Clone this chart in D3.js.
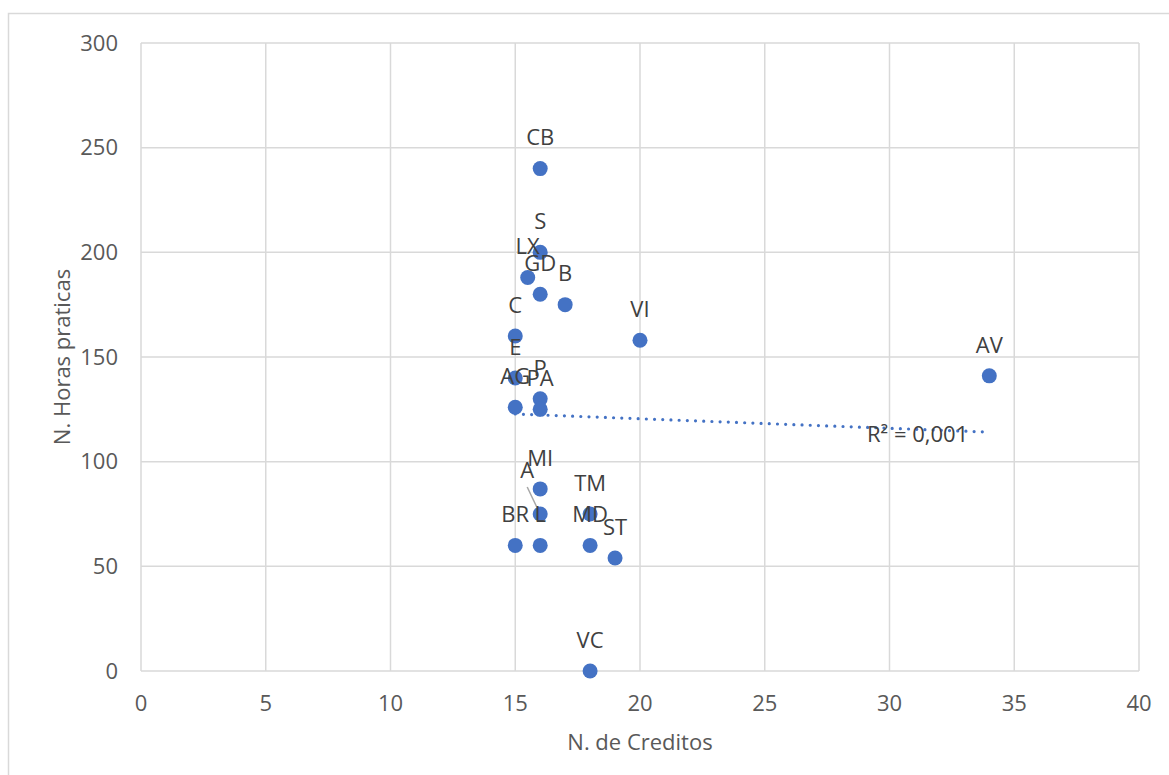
<!DOCTYPE html>
<html>
<head>
<meta charset="utf-8">
<script src="https://cdn.jsdelivr.net/npm/d3@7/dist/d3.min.js"></script>
<style>
  html, body { margin: 0; padding: 0; background: #fff; }
  svg { display: block; font-family: "Open Sans", "Noto Sans", sans-serif; }
</style>
</head>
<body>
<svg id="chart" width="1169" height="775"></svg>
<script>
// Credits vs practical hours per course
const names   = ["CB", "S", "LX", "GD", "B", "C", "E", "AG", "P", "PA", "VI", "AV", "MI", "A", "BR", "L", "TM", "MD", "ST", "VC"];
const credits = [16, 16, 15.5, 16, 17, 15, 15, 15, 16, 16, 20, 34, 16, 16, 15, 16, 18, 18, 19, 18];
const hours   = [240, 200, 188, 180, 175, 160, 140, 126, 130, 125, 158, 141, 87, 75, 60, 60, 75, 60, 54, 0];
const xTicks  = [0, 5, 10, 15, 20, 25, 30, 35, 40];
const yTicks  = [0, 50, 100, 150, 200, 250, 300];
const xTitle  = "N. de Creditos";
const yTitle  = "N. Horas praticas";
const r2Label = "R² = 0,001";

const svg = d3.select("#chart");
const plot = { left: 141, right: 1139, top: 43, bottom: 671 };
const x = d3.scaleLinear().domain([0, 40]).range([plot.left, plot.right]);
const y = d3.scaleLinear().domain([0, 300]).range([plot.bottom, plot.top]);

const gridColor = "#d9d9d9";
const tickColor = "#595959";
const labelColor = "#404040";
const dotColor = "#4472c4";
const fontSize = 22;

// Outer chart frame
svg.append("rect")
  .attr("x", 8.5).attr("y", 13.5)
  .attr("width", 1200).attr("height", 800)
  .attr("fill", "none").attr("stroke", gridColor).attr("stroke-width", 1.5);

// Gridlines
svg.append("g").selectAll("line.v").data(xTicks).join("line")
  .attr("x1", d => x(d)).attr("x2", d => x(d))
  .attr("y1", plot.top).attr("y2", plot.bottom)
  .attr("stroke", gridColor).attr("stroke-width", 1.5);
svg.append("g").selectAll("line.h").data(yTicks).join("line")
  .attr("x1", plot.left).attr("x2", plot.right)
  .attr("y1", d => y(d)).attr("y2", d => y(d))
  .attr("stroke", gridColor).attr("stroke-width", 1.5);

// Axis tick labels
svg.append("g").selectAll("text").data(xTicks).join("text")
  .attr("x", d => x(d)).attr("y", plot.bottom + 32)
  .attr("dy", "0.35em").attr("text-anchor", "middle")
  .attr("fill", tickColor).attr("font-size", fontSize)
  .text(d => d);
svg.append("g").selectAll("text").data(yTicks).join("text")
  .attr("x", plot.left - 23).attr("y", d => y(d))
  .attr("dy", "0.35em").attr("text-anchor", "end")
  .attr("fill", tickColor).attr("font-size", fontSize)
  .text(d => d);

// Axis titles
svg.append("text")
  .attr("x", (plot.left + plot.right) / 2).attr("y", 742)
  .attr("dy", "0.35em").attr("text-anchor", "middle")
  .attr("fill", tickColor).attr("font-size", fontSize)
  .text(xTitle);
svg.append("text")
  .attr("transform", `translate(62,${(plot.top + plot.bottom) / 2}) rotate(-90)`)
  .attr("dy", "0.35em").attr("text-anchor", "middle")
  .attr("fill", tickColor).attr("font-size", fontSize)
  .text(yTitle);

// Points
const pts = names.map((n, i) => ({ name: n, cx: credits[i], hy: hours[i] }));

// Linear trendline (least squares) over the data range
const mx = d3.mean(credits), my = d3.mean(hours);
let sxy = 0, sxx = 0;
credits.forEach((c, i) => { sxy += (c - mx) * (hours[i] - my); sxx += (c - mx) * (c - mx); });
const slope = sxy / sxx, icpt = my - slope * mx;
const [xmin, xmax] = d3.extent(credits);
svg.append("line")
  .attr("x1", x(xmin)).attr("y1", y(icpt + slope * xmin))
  .attr("x2", x(xmax)).attr("y2", y(icpt + slope * xmax))
  .attr("stroke", dotColor).attr("stroke-width", 3.2)
  .attr("stroke-linecap", "round").attr("stroke-dasharray", "0,8.2");

svg.append("g").selectAll("circle").data(pts).join("circle")
  .attr("cx", d => x(d.cx)).attr("cy", d => y(d.hy)).attr("r", 7.5)
  .attr("fill", dotColor);

// Label "A" is pulled away from its point and joined by a leader line
const moved = { A: { dx: -13, dy: -44 } };
const la = pts.find(d => d.name === "A");
svg.append("line")
  .attr("x1", x(la.cx) - 13).attr("y1", y(la.hy) - 27)
  .attr("x2", x(la.cx) - 3).attr("y2", y(la.hy) - 6)
  .attr("stroke", "#a6a6a6").attr("stroke-width", 1.5);

// R² label
svg.append("text")
  .attr("x", 867).attr("y", 434).attr("dy", "0.35em")
  .attr("fill", labelColor).attr("font-size", fontSize)
  .text(r2Label);

// Data labels above each point
svg.append("g").selectAll("text").data(pts).join("text")
  .attr("x", d => x(d.cx) + (moved[d.name] ? moved[d.name].dx : 0))
  .attr("y", d => y(d.hy) + (moved[d.name] ? moved[d.name].dy : -31))
  .attr("dy", "0.35em").attr("text-anchor", "middle")
  .attr("fill", labelColor).attr("font-size", fontSize)
  .text(d => d.name);
</script>
</body>
</html>
